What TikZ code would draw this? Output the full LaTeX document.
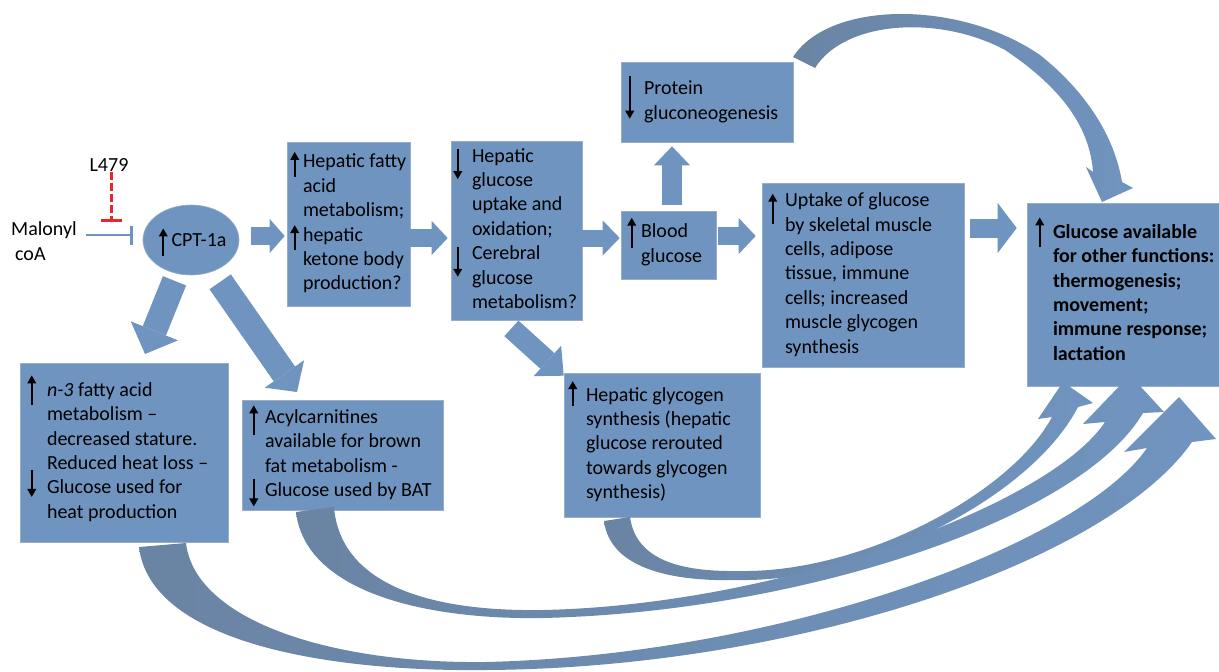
\documentclass[tikz,border=0pt]{standalone}
\usepackage{fontspec}
\setmainfont{Carlito}
\usetikzlibrary{arrows.meta,shapes.geometric,calc}

\definecolor{boxfill}{HTML}{7094C0}
\definecolor{boxline}{HTML}{98ADC8}
\definecolor{curvedark}{HTML}{6A84A3}
\definecolor{inhred}{HTML}{E8262B}
\definecolor{inhblue}{HTML}{7093BE}

\newcommand{\boxfont}{\fontsize{20pt}{24.4pt}\selectfont}
% small black up/down marks hanging left of the text
\NewDocumentCommand{\up}{O{9pt}O{18pt}O{-10pt}}{\llap{\smash{\tikz[baseline=0pt]\draw[line width=2.3pt,-{Triangle[length=8pt,width=8.5pt]}] (0pt,#3)--(0pt,#2);}\hspace{#1}}}
\NewDocumentCommand{\dn}{O{9pt}O{18pt}O{-10pt}}{\llap{\smash{\tikz[baseline=0pt]\draw[line width=2.3pt,-{Triangle[length=8pt,width=8.5pt]}] (0pt,#2)--(0pt,#3);}\hspace{#1}}}
\newcommand{\boxlines}[3]{\makebox[#1][l]{\hspace*{#2}\begin{tabular}{@{}l@{}}#3\end{tabular}}}

\begin{document}
\begin{tikzpicture}[x=1pt,y=-1pt,
    box/.style={draw=boxline, fill=boxfill, line width=0.6pt, inner sep=0pt, font=\boxfont},
    fat/.style n args={3}{draw=boxfill, line width=#1, -{Triangle[width=#2,length=#3,line width=0pt]}},
    curved/.style={left color=curvedark, right color=boxfill, draw=none}]

\path[use as bounding box, clip] (0,0) rectangle (1219,672);

% inhibitors
\node[font=\boxfont, inner sep=0pt, align=left, anchor=west] (malonyl) at (11,241) {Malonyl\\\hspace*{4pt}coA};
\node[font=\boxfont, inner sep=0pt] (drug) at (109,165) {L479};
\node[box, ellipse, minimum width=96pt, minimum height=70pt] (cpt) at (191,240) {\makebox[0pt]{\hspace*{16pt}\up[4pt]CPT-1a}};
\coordinate (redbar) at (111,222);
\draw[inhred, line width=3pt, dash pattern=on 8pt off 3pt, -{Bar[width=21pt]}] (drug.south -| redbar) -- (redbar);
\draw[inhblue, line width=2.5pt, -{Bar[width=19pt]}, shorten <=9pt, shorten >=10pt] ([yshift=6pt]malonyl.east) -- ([yshift=6pt]malonyl.east -| cpt.west);

% boxes
\node[box, minimum width=123pt, minimum height=164pt] (liver) at (348.5,224) {\boxlines{123pt}{16pt}{\up[4pt][16pt][-9pt]Hepatic fatty\\acid\\metabolism;\\\up[4pt][16pt][-9pt]hepatic\\ketone body\\production?}};
\node[box, minimum width=131pt, minimum height=179pt] (hepglc) at (516.5,230.5) {\boxlines{131pt}{21pt}{\dn[10pt][13pt][-17pt]Hepatic\\glucose\\uptake and\\oxidation;\\\dn[10pt][13pt][-17pt]Cerebral\\glucose\\metabolism?}};
\node[box, minimum width=172pt, minimum height=80pt] (protein) at (707,102) {\boxlines{172pt}{23pt}{\dn[10pt][19pt][-24pt]Protein\\gluconeogenesis}};
\node[box, minimum width=95pt, minimum height=68pt] (blood) at (668.5,245) {\boxlines{95pt}{20pt}{\up[5pt][20pt][-10pt]Blood\\glucose}};
\node[box, minimum width=202pt, minimum height=184pt] (uptake) at (863,275) {\boxlines{202pt}{23pt}{\up[8pt][13pt][-17pt]Uptake of glucose\\by skeletal muscle\\cells, adipose\\tissue, immune\\cells; increased\\muscle glycogen\\synthesis}};
\node[box, font=\boxfont\bfseries, minimum width=213pt, minimum height=183pt] (avail) at (1133.5,294.5) {\boxlines{213pt}{26pt}{\up[9pt][21pt][-9pt]Glucose available\\for other functions:\\thermogenesis;\\movement;\\immune response;\\lactation}};
\node[box, minimum width=208pt, minimum height=179pt] (omega) at (124,452.5) {\boxlines{208pt}{27pt}{\up[11pt][21pt][-9pt]\textit{n-3} fatty acid\\metabolism –\\decreased stature.\\Reduced heat loss –\\\dn[11pt][24pt][-3pt]Glucose used for\\heat production}};
\node[box, minimum width=201pt, minimum height=110pt] (acyl) at (342.5,455) {\boxlines{201pt}{23pt}{\up[7pt][18pt][-12pt]Acylcarnitines\\available for brown\\fat metabolism -\\\dn[7pt][17pt][-10pt]Glucose used by BAT}};
\node[box, minimum width=196pt, minimum height=144pt] (glycogen) at (662,445) {\boxlines{196pt}{22pt}{\up[9pt][20pt][-5pt]Hepatic glycogen\\synthesis (hepatic\\glucose rerouted\\towards glycogen\\synthesis)}};

% block arrows
\coordinate (row) at (0,238);
\coordinate (row2) at (0,228);
\coordinate (omegatip) at (145,354);
\coordinate (acyltip) at (297,392);
\draw[fat={18pt}{34pt}{15pt}, shorten <=12pt, shorten >=2pt] ([yshift=4pt]cpt.east) -- ([yshift=4pt]cpt.east -| liver.west);
\draw[fat={18pt}{34pt}{16pt}, shorten >=3pt] (liver.east |- row) -- (hepglc.west |- row);
\draw[fat={17pt}{35pt}{17pt}, shorten >=1pt] (hepglc.east |- row) -- (blood.west |- row);
\draw[fat={18pt}{36pt}{17pt}, shorten <=2pt, shorten >=6pt] ([yshift=2pt]blood.east |- row) -- ([yshift=2pt]uptake.west |- row);
\draw[fat={20pt}{36pt}{19pt}, shorten <=6pt, shorten >=4pt] ([xshift=3.5pt]blood.north) -- ([xshift=3.5pt]blood.north |- protein.south);
\draw[fat={19pt}{50pt}{19pt}, shorten <=6pt, shorten >=10pt] (uptake.east |- row2) -- (avail.west |- row2);
\draw[fat={21pt}{41pt}{22pt}, shorten <=12pt] ([xshift=-14pt]hepglc.south) -- ([yshift=-3pt]glycogen.north west);
\draw[fat={25pt}{51pt}{25pt}, shorten <=44pt] (cpt.center) -- (omegatip);
\draw[fat={26pt}{48pt}{22pt}, shorten <=51pt] (cpt.center) -- (acyltip);

% curved arrows into the glucose box
\path[curved] (793,57) .. controls (830,0) and (960,0) .. (1040,55)
  .. controls (1090,95) and (1115,140) .. (1122,182)
  -- (1133,188) -- (1102,202) -- (1086,167) -- (1093,172)
  .. controls (1090,130) and (1065,90) .. (1005,50)
  .. controls (940,15) and (845,20) .. (815,68) -- cycle;
\path[curved] (604,521) .. controls (610,568) and (670,582) .. (740,580)
  .. controls (860,582) and (1030,500) .. (1078,407)
  -- (1093,403) -- (1063,382) -- (1038,419) -- (1052,417)
  .. controls (1010,495) and (860,573) .. (740,571)
  .. controls (680,572) and (636,560) .. (630,517) -- cycle;
\path[curved] (296,512) .. controls (305,590) and (420,620) .. (543,618)
  .. controls (800,612) and (1080,520) .. (1143,413)
  -- (1164,412) -- (1130,375) -- (1083,424) -- (1105,422)
  .. controls (1050,505) and (780,605) .. (543,610)
  .. controls (420,612) and (340,580) .. (334,507) -- cycle;
\path[curved] (139,547) .. controls (150,640) and (320,672) .. (486,670)
  .. controls (800,668) and (1110,560) .. (1192,442)
  -- (1216,439) -- (1179,397) -- (1124,452) -- (1147,448)
  .. controls (1080,545) and (780,655) .. (486,662)
  .. controls (330,664) and (195,620) .. (186,543) -- cycle;
\end{tikzpicture}
\end{document}
